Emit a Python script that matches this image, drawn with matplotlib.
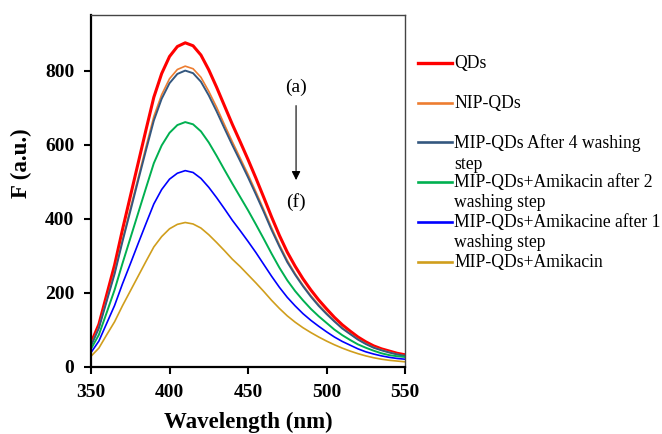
import numpy as np
import matplotlib.pyplot as plt
from matplotlib.lines import Line2D

# wavelength grid (nm)
wavelength = np.arange(350, 551, 5)

qds = [65, 115, 195, 275, 370, 460, 550, 640, 728, 792, 838, 865, 875, 867, 842,
       802, 755, 705, 655, 608, 560, 510, 458, 405, 355, 310, 272, 238, 208, 181,
       157, 134, 114, 97, 81, 68, 57, 49, 43, 37, 33]
nip_qds = [60, 107, 181, 255, 343, 427, 510, 594, 676, 735, 778, 803, 812, 805, 782,
           744, 701, 654, 608, 564, 520, 473, 425, 376, 330, 288, 252, 221, 193, 168,
           146, 124, 106, 90, 75, 63, 53, 46, 40, 34, 30]
mip_wash4 = [57, 105, 178, 251, 338, 420, 503, 585, 665, 724, 766, 791, 800, 793, 770,
             733, 690, 644, 599, 556, 512, 466, 419, 370, 325, 283, 249, 218, 190, 165,
             143, 123, 104, 89, 74, 62, 52, 45, 39, 34, 30]
mip_ami_wash2 = [49, 87, 147, 208, 279, 347, 415, 483, 550, 598, 632, 653, 661, 655, 636,
                 606, 570, 532, 495, 459, 423, 385, 346, 306, 268, 234, 205, 180, 157, 137,
                 119, 101, 86, 73, 61, 52, 44, 37, 32, 29, 27]
mip_ami_wash1 = [39, 70, 118, 166, 224, 278, 333, 387, 440, 479, 507, 523, 530, 525, 509,
                 485, 457, 427, 396, 368, 339, 309, 277, 245, 215, 188, 165, 144, 126, 110,
                 95, 81, 69, 59, 49, 41, 35, 30, 26, 23, 21]
mip_ami = [29, 51, 87, 122, 165, 205, 245, 285, 324, 352, 373, 385, 390, 386, 375,
           357, 336, 314, 291, 271, 249, 227, 204, 180, 158, 138, 121, 106, 93, 81,
           70, 60, 51, 43, 36, 30, 25, 21, 18, 16, 14]

labels = ["QDs", "NIP-QDs", "MIP-QDs After 4 washing\nstep",
          "MIP-QDs+Amikacin after 2\nwashing step",
          "MIP-QDs+Amikacine after 1\nwashing step", "MIP-QDs+Amikacin"]
colors = ["#FF0000", "#ED7D31", "#34577F", "#00B050", "#0000FF", "#D09E1C"]
widths = [2.2, 1.2, 1.4, 1.4, 1.2, 1.2]
series = [qds, nip_qds, mip_wash4, mip_ami_wash2, mip_ami_wash1, mip_ami]

plt.rcParams['font.family'] = ['Liberation Serif', 'DejaVu Serif']

fig = plt.figure(figsize=(6.62, 4.34), dpi=100)
ax = fig.add_axes([0.1375, 0.1544, 0.4743, 0.811])

for y, c, lw in zip(series, colors, widths):
    ax.plot(wavelength, y, color=c, lw=lw, solid_joinstyle='round')

ax.set_xlim(350, 550)
ax.set_ylim(0, 950)
ax.set_xticks([350, 400, 450, 500, 550])
ax.set_yticks([0, 200, 400, 600, 800])
ax.tick_params(direction='out', length=5, width=1.5, labelsize=14, pad=7)
for lab in ax.get_xticklabels() + ax.get_yticklabels():
    lab.set_fontweight('bold')

for s in ['left', 'bottom']:
    ax.spines[s].set_linewidth(1.6)
    ax.spines[s].set_color('black')
for s in ['top', 'right']:
    ax.spines[s].set_linewidth(1.0)
    ax.spines[s].set_color('#444444')

ax.set_xlabel("Wavelength (nm)", fontsize=16.5, fontweight='bold', va='center')
ax.set_ylabel("F (a.u.)", fontsize=16.5, fontweight='bold', va='center')
ax.xaxis.set_label_coords(0.5, -0.158)
ax.yaxis.set_label_coords(-0.222, 0.58)

# (a) -> (f) arrow
ax.annotate("", xy=(480.6, 497), xytext=(480.6, 713),
            arrowprops=dict(arrowstyle='-|>', color='black', lw=0.8,
                            mutation_scale=13))
ax.text(480.6, 756, "(a)", ha='center', va='center', fontsize=14)
ax.text(480.6, 445, "(f)", ha='center', va='center', fontsize=14)

# legend drawn beside the axes
W, H = 662.0, 434.0
for i, (lab, c) in enumerate(zip(labels, colors)):
    yc = 63 + i * 39.7
    fig.add_artist(Line2D([418 / W, 452 / W], [1 - yc / H, 1 - yc / H],
                          color=c, lw=2.4 if i == 0 else 1.9,
                          transform=fig.transFigure))
    fig.text(454 / W, 1 - (yc - 8) / H, lab, ha='left', va='top',
             fontsize=12.7, linespacing=1.25)

fig.savefig("out.png", dpi=100)
